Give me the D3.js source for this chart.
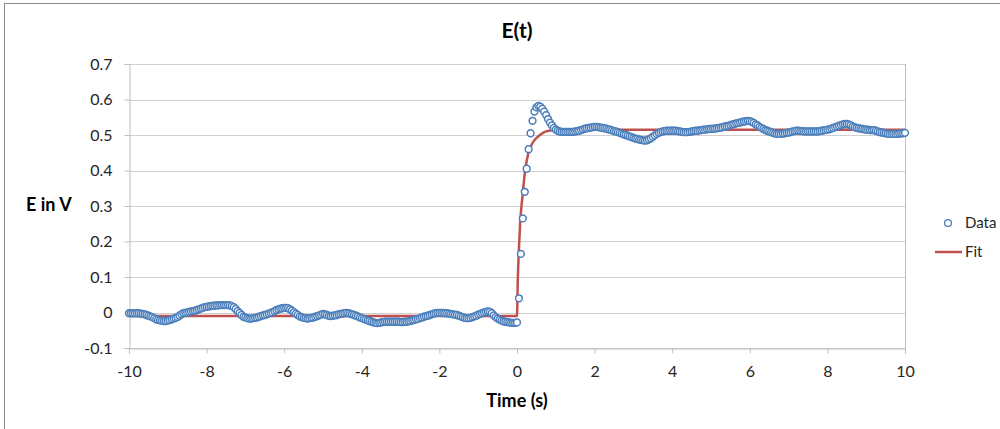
<!DOCTYPE html>
<html><head><meta charset="utf-8">
<script src="https://cdn.jsdelivr.net/npm/d3@7"></script>
<style>
html,body{margin:0;padding:0;background:#fff;}
svg{display:block;font-family:Lato,"Open Sans",sans-serif;}
</style></head>
<body>
<svg id="c" width="1000" height="429"></svg>
<script>
// Sampling grid of the measured data
const dataStart = -10;
const dataStep = 0.05;
// Measured E (V), one row per second, from t=-10 to t=10
const dataValues = [
-0.002,-0.002,-0.002,-0.002,-0.002,-0.002,-0.003,-0.004,-0.005,-0.007,-0.009,-0.011,-0.013,-0.016,-0.019,-0.021,-0.022,-0.023,-0.024,-0.024,
-0.023,-0.021,-0.019,-0.017,-0.015,-0.013,-0.009,-0.005,-0.002,-0.001,0.000,0.002,0.003,0.004,0.005,0.007,0.009,0.011,0.013,0.015,
0.016,0.017,0.018,0.019,0.019,0.020,0.020,0.021,0.021,0.021,0.021,0.021,0.020,0.018,0.015,0.010,0.004,-0.001,-0.007,-0.012,
-0.014,-0.016,-0.017,-0.017,-0.016,-0.015,-0.014,-0.012,-0.010,-0.008,-0.007,-0.005,-0.003,-0.001,0.001,0.004,0.007,0.009,0.011,0.012,
0.013,0.013,0.012,0.009,0.005,0.001,-0.003,-0.007,-0.011,-0.013,-0.015,-0.016,-0.017,-0.016,-0.015,-0.014,-0.012,-0.010,-0.008,-0.006,
-0.004,-0.005,-0.007,-0.009,-0.010,-0.009,-0.008,-0.007,-0.005,-0.004,-0.003,-0.002,-0.001,-0.002,-0.003,-0.005,-0.007,-0.009,-0.011,-0.014,
-0.016,-0.018,-0.020,-0.022,-0.024,-0.026,-0.028,-0.029,-0.030,-0.029,-0.028,-0.027,-0.026,-0.026,-0.026,-0.026,-0.026,-0.026,-0.026,-0.026,
-0.027,-0.027,-0.026,-0.026,-0.025,-0.024,-0.022,-0.021,-0.019,-0.018,-0.016,-0.014,-0.012,-0.010,-0.009,-0.007,-0.005,-0.003,-0.002,-0.001,
-0.001,-0.001,-0.001,-0.002,-0.002,-0.003,-0.004,-0.005,-0.006,-0.007,-0.009,-0.011,-0.013,-0.015,-0.016,-0.016,-0.015,-0.013,-0.011,-0.009,
-0.006,-0.004,-0.002,0.000,0.002,0.003,0.002,-0.002,-0.008,-0.013,-0.017,-0.020,-0.023,-0.025,-0.026,-0.027,-0.028,-0.029,-0.029,-0.029,
-0.028,0.040,0.165,0.265,0.340,0.405,0.460,0.505,0.540,0.566,0.578,0.582,0.580,0.574,0.566,0.556,0.545,0.535,0.527,0.520,
0.515,0.512,0.510,0.509,0.509,0.509,0.509,0.509,0.509,0.509,0.510,0.511,0.512,0.514,0.516,0.518,0.519,0.520,0.521,0.522,
0.523,0.523,0.522,0.521,0.520,0.519,0.518,0.516,0.515,0.513,0.511,0.510,0.508,0.506,0.504,0.502,0.500,0.498,0.496,0.494,
0.492,0.490,0.489,0.487,0.486,0.485,0.484,0.485,0.488,0.491,0.495,0.499,0.503,0.506,0.508,0.510,0.511,0.512,0.512,0.512,
0.512,0.512,0.512,0.511,0.510,0.509,0.508,0.508,0.508,0.509,0.510,0.511,0.512,0.512,0.513,0.514,0.515,0.515,0.516,0.517,
0.517,0.518,0.518,0.519,0.520,0.521,0.522,0.524,0.525,0.526,0.528,0.530,0.531,0.533,0.534,0.535,0.537,0.538,0.539,0.540,
0.539,0.537,0.534,0.530,0.527,0.523,0.520,0.517,0.514,0.512,0.510,0.508,0.506,0.504,0.503,0.503,0.503,0.504,0.505,0.506,
0.507,0.508,0.510,0.511,0.512,0.512,0.511,0.511,0.510,0.510,0.510,0.510,0.510,0.510,0.510,0.510,0.511,0.512,0.513,0.514,
0.515,0.516,0.518,0.520,0.522,0.524,0.526,0.528,0.530,0.531,0.531,0.530,0.528,0.524,0.522,0.520,0.519,0.518,0.517,0.516,
0.515,0.515,0.514,0.514,0.514,0.512,0.510,0.508,0.507,0.506,0.505,0.504,0.503,0.503,0.503,0.503,0.503,0.504,0.505,0.505,
0.506
];
// Fit curve
const fitTimes  = [-10, 0, 0.02, 0.05, 0.08, 0.14, 0.21, 0.29, 0.42, 0.59, 0.81, 1.1, 10];
const fitValues = [-0.01, -0.01, 0.09, 0.18, 0.25, 0.326, 0.40, 0.448, 0.481, 0.50, 0.512, 0.515, 0.515];
// Axes
const xTicks = [-10, -8, -6, -4, -2, 0, 2, 4, 6, 8, 10];
const yTicks = [-0.1, 0, 0.1, 0.2, 0.3, 0.4, 0.5, 0.6, 0.7];
const titleText = "E(t)";
const xTitle = "Time (s)";
const yTitle = "E in V";
const seriesNames = ["Data", "Fit"];

const svg = d3.select("#c");
const blue = "#4a7ebb", red = "#c0504d", grid = "#d0d0d0", axisC = "#bfbfbf", txt = "#262626";
const fmt = d => String(+(+d).toFixed(1)); // plain hyphen minus like the original

// outer chart frame
svg.append("rect").attr("x", 4.5).attr("y", 3.5).attr("width", 1000).attr("height", 430)
  .attr("fill", "none").attr("stroke", "#8c8c8c").attr("stroke-width", 1);

const x = d3.scaleLinear().domain([-10, 10]).range([129, 905]);
const y = d3.scaleLinear().domain([-0.1, 0.7]).range([348, 64]);

// gridlines
svg.append("g").selectAll("line").data(yTicks).join("line")
  .attr("x1", x(-10)).attr("x2", x(10))
  .attr("y1", d => Math.round(y(d)) + 0.5).attr("y2", d => Math.round(y(d)) + 0.5)
  .attr("stroke", grid).attr("stroke-width", 1);
// plot-area right border
svg.append("line").attr("x1", Math.round(x(10)) + 0.5).attr("x2", Math.round(x(10)) + 0.5)
  .attr("y1", y(0.7)).attr("y2", y(-0.1)).attr("stroke", axisC);

// y axis
const yAxis = svg.append("g").attr("transform", `translate(${Math.round(x(-10)) + 0.5},0)`)
  .call(d3.axisLeft(y).tickValues(yTicks).tickFormat(fmt).tickSize(5).tickPadding(12));
yAxis.select(".domain").attr("stroke", axisC);
yAxis.selectAll(".tick line").attr("stroke", axisC);
yAxis.selectAll("text").attr("font-size", 16).attr("fill", txt).attr("font-family", "Lato");

// x axis
const xAxis = svg.append("g").attr("transform", `translate(0,${Math.round(y(-0.1)) + 0.5})`)
  .call(d3.axisBottom(x).tickValues(xTicks).tickFormat(fmt).tickSize(5).tickPadding(12));
xAxis.select(".domain").attr("stroke", axisC);
xAxis.selectAll(".tick line").attr("stroke", axisC);
xAxis.selectAll("text").attr("font-size", 16).attr("fill", txt).attr("font-family", "Lato");

// fit line
const fitPts = fitTimes.map((t, i) => [t, fitValues[i]]);
svg.append("path").datum(fitPts)
  .attr("d", d3.line().x(d => x(d[0])).y(d => y(d[1])).curve(d3.curveMonotoneX))
  .attr("fill", "none").attr("stroke", red).attr("stroke-width", 2.5);

// data markers
const pts = dataValues.map((v, i) => [dataStart + i * dataStep, v]);
svg.append("g").selectAll("circle").data(pts).join("circle")
  .attr("cx", d => x(d[0])).attr("cy", d => y(d[1])).attr("r", 3.4)
  .attr("fill", "#fff").attr("stroke", blue).attr("stroke-width", 1.5);

// titles
svg.append("text").attr("x", 517).attr("y", 38).attr("text-anchor", "middle")
  .attr("font-size", 21).attr("font-weight", "bold").attr("fill", "#000").text(titleText);
svg.append("text").attr("x", 517).attr("y", 407).attr("text-anchor", "middle")
  .attr("font-size", 18).attr("font-weight", "bold").attr("fill", "#000").text(xTitle);
svg.append("text").attr("x", 26).attr("y", 211)
  .attr("font-size", 18).attr("font-weight", "bold").attr("fill", "#000").text(yTitle);

// legend
svg.append("circle").attr("cx", 948).attr("cy", 223).attr("r", 3.4)
  .attr("fill", "#fff").attr("stroke", blue).attr("stroke-width", 1.3);
svg.append("text").attr("x", 965).attr("y", 228).attr("font-size", 15).attr("fill", txt).text(seriesNames[0]);
svg.append("line").attr("x1", 935).attr("x2", 962).attr("y1", 252).attr("y2", 252)
  .attr("stroke", red).attr("stroke-width", 2.5);
svg.append("text").attr("x", 965).attr("y", 257).attr("font-size", 15).attr("fill", txt).text(seriesNames[1]);
</script>
</body></html>
